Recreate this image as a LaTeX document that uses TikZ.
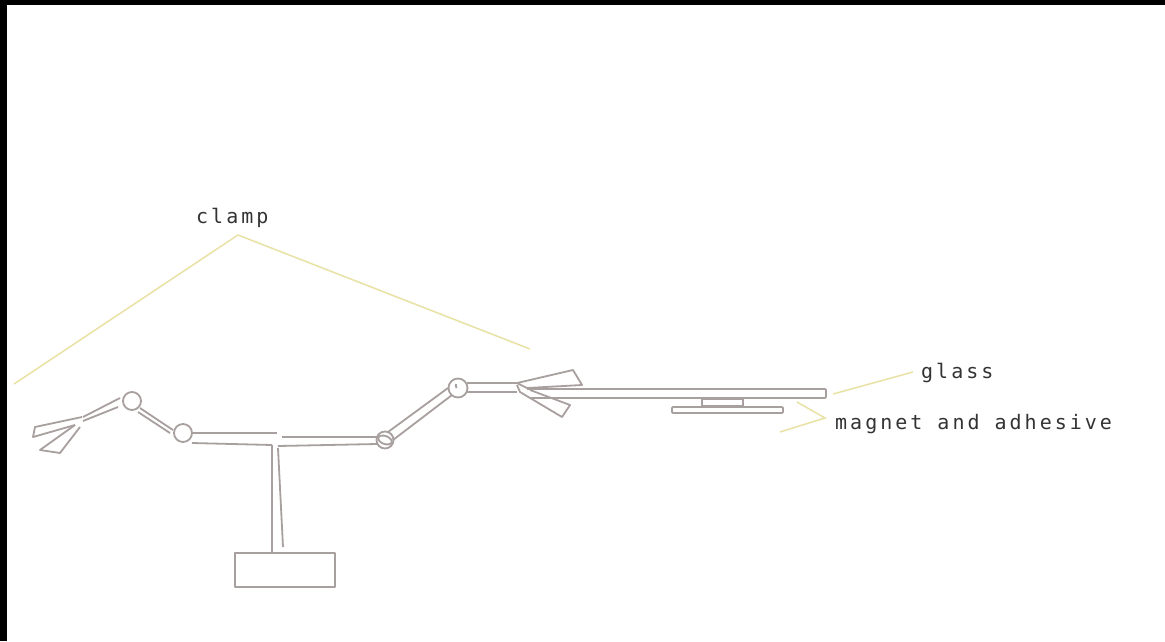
\documentclass[tikz,border=0pt]{standalone}
\usepackage{fontspec}
\newfontfamily\labelfont[LetterSpace=15]{DejaVu Sans Mono}
\usetikzlibrary{positioning}
\definecolor{armgrey}{RGB}{168,160,158}
\definecolor{leader}{RGB}{232,226,165}
\tikzset{
  arm/.style={draw=armgrey, line width=1.8pt, line join=round},
  joint/.style={circle, draw=armgrey, line width=1.8pt, inner sep=0pt, fill=white},
  lead/.style={draw=leader, line width=1.5pt},
  tag/.style={inner sep=0pt, anchor=base west, text=black!80, font=\labelfont\fontsize{20}{24}\selectfont},
}
\begin{document}
\begin{tikzpicture}[x=1pt,y=-1pt]
  \useasboundingbox (0,0) rectangle (1165,641);
  \fill[black] (0,0) rectangle (1165,641);
  \fill[white] (7,5) rectangle (1165,641);

  % stand
  \draw[arm] (235,553) rectangle (335,587);
  \draw[arm] (272,445) -- (272,553);
  \draw[arm] (278,448) -- (283,547);

  % left arm
  \node[joint, minimum size=18pt] (jointA) at (132,401) {};
  \node[joint, minimum size=18pt] (jointB) at (183,433) {};
  \draw[arm] (193,433) -- (277,433);
  \draw[arm] (192,443) -- (272,445);
  \draw[arm] (282,437) -- (380,437);
  \draw[arm] (278,446) -- (377,444);
  \draw[arm] (140,408) -- (173,430);
  \draw[arm] (138,412) -- (170,433);
  \draw[arm] (83,417) -- (120,398);
  \draw[arm] (83,421) -- (118,407);

  % left clamp
  \draw[arm] (82,417) -- (35,427) -- (33,437) -- (75,425);
  \draw[arm] (75,425) -- (40,450) -- (60,453) -- (80,427);

  % right arm
  \node[joint, minimum size=17pt] (jointC) at (385,440) {};
  \node[joint, minimum size=19pt] (jointD) at (458,388) {};
  \draw[arm, rotate around={-20:(385,440)}] (385,440) ellipse (7 and 4);
  \draw[arm] (456,384) arc (200:140:4);
  \draw[arm] (388,432) -- (448,388);
  \draw[arm] (393,440) -- (452,395);
  \draw[arm] (467,383) -- (517,383);
  \draw[arm] (467,392) -- (517,392);

  % right clamp
  \draw[arm] (517,383) -- (573,370) -- (582,385) -- (527,388) -- cycle;
  \draw[arm] (517,385) -- (520,392) -- (562,417) -- (570,405) -- (530,390);

  % glass and magnet
  \draw[arm, rounded corners=1pt] (527,389) -- (826,389) -- (826,398) -- (530,398);
  \draw[arm] (702,399) rectangle (743,406);
  \draw[arm, rounded corners=1pt] (672,407) rectangle (783,413);

  % labels
  \node[tag] (clamp) at (196,223) {clamp};
  \node[tag] (glass) at (921,378) {glass};
  \node[tag] (magnet) at (835,429) {magnet and adhesive};
  \coordinate (peak) at (238,235);
  \coordinate (fork) at (825,418);
  \draw[lead] (14,384) -- (peak) -- (530,349);
  \draw[lead] (833,394) -- (913,372);
  \draw[lead] (797,402) -- (fork) -- (780,432);
\end{tikzpicture}
\end{document}
